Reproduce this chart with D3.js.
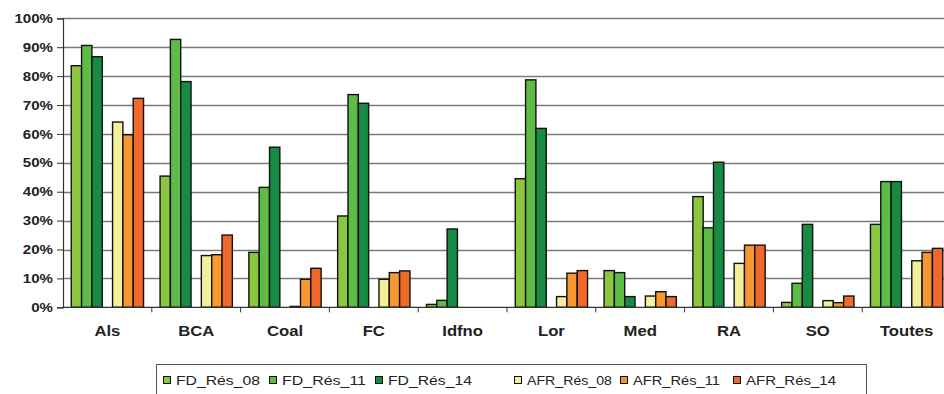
<!DOCTYPE html>
<html>
<head>
<meta charset="utf-8">
<script src="https://cdn.jsdelivr.net/npm/d3@7"></script>
<style>
  html, body { margin: 0; padding: 0; background: #fff; }
  svg { display: block; font-family: "Liberation Sans", Arial, sans-serif; }
</style>
</head>
<body>
<svg id="chart" width="944" height="394"></svg>
<script>
const categories = ["Als", "BCA", "Coal", "FC", "Idfno", "Lor", "Med", "RA", "SO", "Toutes"];
const seriesNames = ["FD_Rés_08", "FD_Rés_11", "FD_Rés_14", "AFR_Rés_08", "AFR_Rés_11", "AFR_Rés_14"];
const seriesColors = ["#8cc63e", "#5dbb46", "#178a43", "#f4f09a", "#f7972f", "#f0692a"];
const FD_Res_08  = [83.6, 45.4, 19.0, 31.6, 1.0, 44.5, 12.7, 38.3, 1.7, 28.7];
const FD_Res_11  = [90.6, 92.7, 41.5, 73.6, 2.4, 78.7, 12.0, 27.5, 8.3, 43.5];
const FD_Res_14  = [86.7, 78.1, 55.4, 70.6, 27.1, 61.9, 3.7, 50.2, 28.7, 43.5];
const AFR_Res_08 = [64.1, 17.9, 0.3, 9.7, 0, 3.7, 3.9, 15.2, 2.3, 16.1];
const AFR_Res_11 = [59.7, 18.2, 9.7, 12.0, 0, 11.8, 5.4, 21.5, 1.6, 19.0];
const AFR_Res_14 = [72.3, 25.0, 13.5, 12.6, 0, 12.7, 3.7, 21.5, 3.9, 20.4];
const yTicks = [0, 10, 20, 30, 40, 50, 60, 70, 80, 90, 100];

const seriesValues = [FD_Res_08, FD_Res_11, FD_Res_14, AFR_Res_08, AFR_Res_11, AFR_Res_14];
// slot index per series (slot 3 is an empty spacer between FD and AFR groups)
const slotOf = [0, 1, 2, 4, 5, 6];

const svg = d3.select("#chart");
const mLeft = 63, mRight = 951, mTop = 18.3, mBottom = 307.3;

const x = d3.scaleBand().domain(categories).range([mLeft, mRight]).paddingInner(0).paddingOuter(0);
const inner = d3.scaleBand().domain(d3.range(7)).range([0, x.bandwidth()]).paddingOuter(0.8).paddingInner(0);
const y = d3.scaleLinear().domain([0, 100]).range([mBottom, mTop]);

// gridlines
svg.append("g").selectAll("line").data(yTicks.filter(d => d > 0)).join("line")
  .attr("x1", mLeft).attr("x2", 944)
  .attr("y1", d => Math.round(y(d)) + 0.5).attr("y2", d => Math.round(y(d)) + 0.5)
  .attr("stroke", "#7a7a7a").attr("stroke-width", 1.5);

// bars
const data = [];
categories.forEach((c, i) => {
  seriesValues.forEach((arr, s) => {
    if (arr[i] > 0) data.push({ c, s, v: arr[i] });
  });
});
svg.append("g").selectAll("rect").data(data).join("rect")
  .attr("x", d => x(d.c) + inner(slotOf[d.s]))
  .attr("width", inner.bandwidth())
  .attr("y", d => y(d.v))
  .attr("height", d => y(0) - y(d.v))
  .attr("fill", d => seriesColors[d.s])
  .attr("stroke", "#111").attr("stroke-width", 1.4);

// y axis (ticks via d3 axis, labels drawn horizontally stretched)
const yAxis = d3.axisLeft(y).tickValues(yTicks).tickFormat("").tickSize(6);
const gy = svg.append("g").attr("transform", `translate(${mLeft},0)`).call(yAxis);
gy.select(".domain").attr("stroke", "#333").attr("stroke-width", 1.2);
gy.selectAll(".tick line").attr("stroke", "#333");
svg.append("g").selectAll("g").data(yTicks).join("g")
  .attr("transform", d => `translate(${mLeft - 10},${y(d)}) scale(1.16,1)`)
  .append("text")
  .attr("text-anchor", "end").attr("dy", "0.36em")
  .attr("font-size", 13).attr("font-weight", "bold").attr("fill", "#222")
  .text(d => d + "%");

// x axis
const gx = svg.append("g").attr("transform", `translate(0,${mBottom})`);
gx.append("line").attr("x1", mLeft).attr("x2", 944).attr("y1", 0).attr("y2", 0)
  .attr("stroke", "#333").attr("stroke-width", 1.2);
gx.selectAll(".xt").data(categories.slice(1)).join("line")
  .attr("class", "xt")
  .attr("x1", d => x(d)).attr("x2", d => x(d)).attr("y1", 0).attr("y2", 5)
  .attr("stroke", "#333");
gx.selectAll(".xl").data(categories).join("g")
  .attr("class", "xl")
  .attr("transform", d => `translate(${x(d) + x.bandwidth() / 2},29) scale(1.15,1)`)
  .append("text")
  .attr("text-anchor", "middle")
  .attr("font-size", 14.5).attr("font-weight", "bold").attr("fill", "#222")
  .text(d => d);

// legend
const lg = svg.append("g");
lg.append("rect").attr("x", 156.5).attr("y", 364.5).attr("width", 710).attr("height", 40)
  .attr("fill", "#fff").attr("stroke", "#555").attr("stroke-width", 1);
const legX = [163, 269, 375, 514, 620, 733];
const legW = [84, 84, 84, 85, 87, 90];
seriesNames.forEach((n, i) => {
  lg.append("rect").attr("x", legX[i] + 0.5).attr("y", 376.5).attr("width", 7).attr("height", 7)
    .attr("fill", seriesColors[i]).attr("stroke", "#111").attr("stroke-width", 1);
  lg.append("text").attr("x", legX[i] + 13).attr("y", 385)
    .attr("font-size", 13.5).attr("fill", "#222")
    .attr("textLength", legW[i]).attr("lengthAdjust", "spacingAndGlyphs")
    .text(n);
});
</script>
</body>
</html>
